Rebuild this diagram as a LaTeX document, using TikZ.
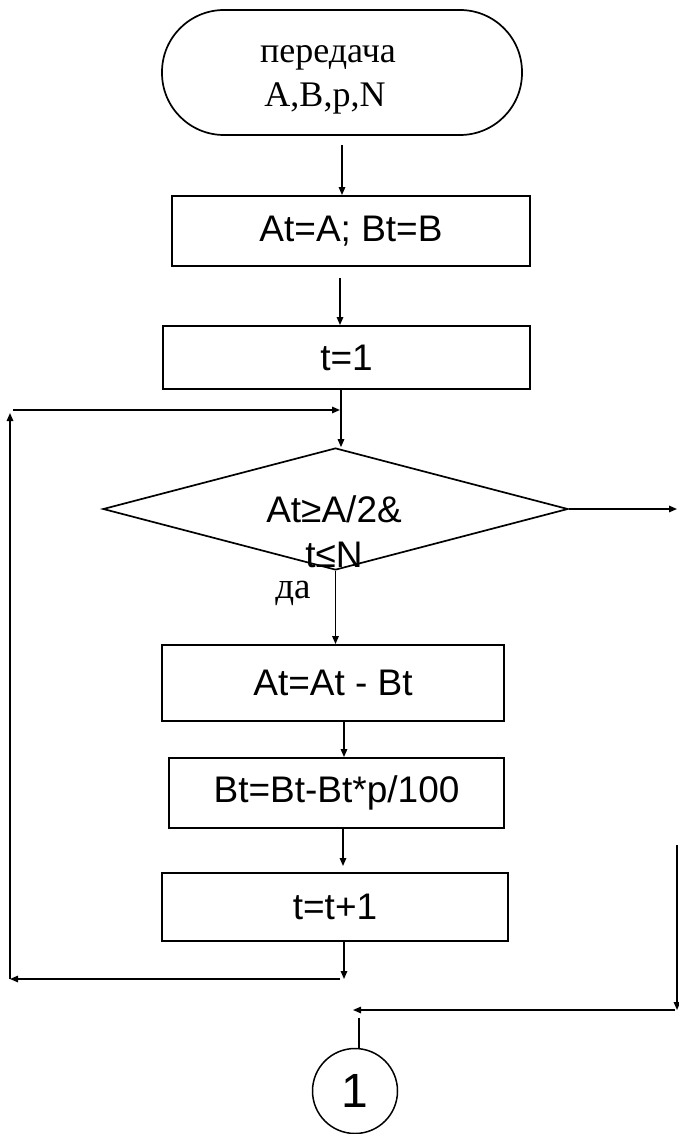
\documentclass[tikz,border=0pt]{standalone}
\usepackage{fontspec}
\setmainfont{Liberation Serif}
\newfontfamily\arialf{Liberation Sans}
\usetikzlibrary{arrows.meta,shapes.geometric}
\begin{document}
\begin{tikzpicture}[x=1pt,y=-1pt,
  procbox/.style={draw, line width=1.9pt, rectangle, inner sep=0pt,
    font=\arialf\fontsize{37}{44}\selectfont},
  termbox/.style={draw, line width=1.7pt, rectangle, rounded corners=62pt,
    inner sep=0pt, minimum width=360pt, minimum height=125pt},
  decbox/.style={draw, diamond, line width=1.7pt, inner sep=0pt,
    minimum width=465pt, minimum height=122pt},
  conbox/.style={draw, circle, line width=1.5pt, inner sep=0pt, minimum size=85pt,
    font=\arialf\fontsize{48}{48}\selectfont},
  arr/.style={line width=1.5pt, -{Triangle[length=8pt,width=6.5pt]}},
  ln/.style={line width=1.5pt},
  sertext/.style={inner sep=0pt, anchor=base, font=\fontsize{36}{44}\selectfont},
  santext/.style={inner sep=0pt, anchor=base, font=\arialf\fontsize{37}{44}\selectfont}]
\useasboundingbox (0,0) rectangle (679,1134);

% nodes
\node[termbox] (term) at (342,72.5) {};
\node[sertext] (tl1) at (328,63) {передача};
\node[sertext] (tl2) at (325,107) {A,B,p,N};
\node[procbox, minimum width=358pt, minimum height=70pt] (b1) at (351,231) {At=A; Bt=B};
\node[procbox, minimum width=367pt, minimum height=63pt] (b2) at (346.5,357.5) {t=1};
\node[decbox] (cond) at (335.5,509) {};
\node[santext] (q1) at (334,522) {At≥A/2\&};
\node[santext] (q2) at (334,567) {t≤N};
\node[sertext, font=\fontsize{37}{44}\selectfont] (yes) at (293,598) {да};
\node[procbox, minimum width=342pt, minimum height=76pt] (b3) at (333,683) {At=At - Bt};
\node[procbox, minimum width=335pt, minimum height=70pt] (b4) at (336.5,793) {Bt=Bt-Bt*p/100};
\node[procbox, minimum width=346pt, minimum height=68pt] (b5) at (335,907) {t=t+1};
\node[conbox] (conn) at (355,1091) {1};

% connector points
\coordinate (c1) at (342,145);
\coordinate (c2) at (340,278);
\coordinate (c3) at (341,389);
\coordinate (c7) at (344,721);
\coordinate (c8) at (343,828);
\coordinate (c8e) at (343,866);
\coordinate (c9) at (344,979);
\coordinate (lt) at (13,410);
\coordinate (ltE) at (340,410);
\coordinate (lb) at (10,979);
\coordinate (lbT) at (10,413);
\coordinate (bl) at (340,979);
\coordinate (rE) at (677,509);
\coordinate (rv1) at (677,845);
\coordinate (rv2) at (677,1010);
\coordinate (h2s) at (675,1010);
\coordinate (h2e) at (353,1010);
\coordinate (cv) at (359,1018);

% connectors
\draw[arr] (c1) -- (c1 |- b1.north);
\draw[arr] (c2) -- (c2 |- b2.north);
\draw[arr] (b2.south -| c3) -- (c3 |- cond.north);
\draw[arr] (lt) -- (ltE);
\draw[arr] (lb) -- (lbT);
\draw[arr] (cond.east) -- (rE);
\draw[arr] (cond.south) -- (cond.south |- b3.north);
\draw[arr] (b3.south -| c7) -- (c7 |- b4.north);
\draw[arr] (b4.south -| c8) -- (c8e);
\draw[arr] (b5.south -| c9) -- (c9);
\draw[arr] (bl) -- (lb);
\draw[arr] (rv1) -- (rv2);
\draw[arr] (h2s) -- (h2e);
\draw[ln] (cv) -- (cv |- conn.north);
\end{tikzpicture}
\end{document}
